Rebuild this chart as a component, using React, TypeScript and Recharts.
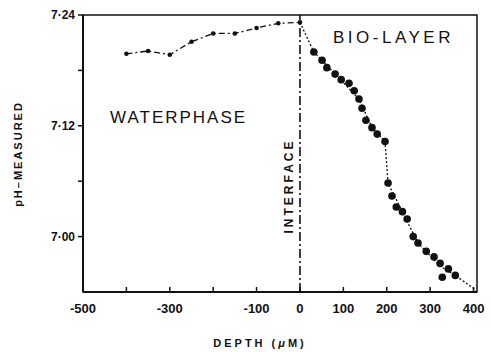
import {
  ComposedChart,
  Line,
  Scatter,
  XAxis,
  YAxis,
  ReferenceLine,
  ReferenceArea
} from 'recharts';

// depth in micrometres, pH
const waterDepth = [-400, -350, -300, -250, -200, -150, -100, -50, 0];
const waterPh = [7.198, 7.201, 7.197, 7.211, 7.22, 7.22, 7.226, 7.231, 7.232];

const bioDepth = [32, 51, 62, 81, 95, 113, 125, 136, 143, 152, 166, 178, 196, 203, 212, 222, 236, 247, 261, 272, 291, 309, 323, 328, 342, 358];
const bioPh = [7.2, 7.191, 7.183, 7.176, 7.17, 7.166, 7.158, 7.149, 7.139, 7.126, 7.118, 7.111, 7.103, 7.058, 7.044, 7.032, 7.027, 7.019, 7.0, 6.993, 6.984, 6.978, 6.971, 6.956, 6.965, 6.958];

const trendDepth = [0, 32, 81, 136, 166, 196, 203, 236, 272, 323, 358, 406];
const trendPh = [7.232, 7.2, 7.176, 7.149, 7.118, 7.103, 7.058, 7.027, 6.993, 6.968, 6.958, 6.942];

const xTicks = [-500, -400, -300, -200, -100, 0, 100, 200, 300, 400];
const xLabels = [-500, -300, -100, 0, 100, 200, 300, 400];
const yTicks = [7.0, 7.06, 7.12, 7.18, 7.24];
const yLabels = [7.0, 7.12, 7.24];

const toPoints = (xs: number[], ys: number[]) => xs.map((x, i) => ({ x, y: ys[i] }));

const waterData = toPoints(waterDepth, waterPh);
const bioData = toPoints(bioDepth, bioPh);
const trendData = toPoints(trendDepth, trendPh);

const font = '"Liberation Sans", Arial, sans-serif';
const ink = '#111';

const XTick = (props: any) => {
  const { x, y, payload } = props;
  if (!xLabels.includes(payload.value)) return <g />;
  return (
    <text x={x} y={y} dy={5} textAnchor="middle" fontFamily={font} fontWeight={700} fontSize={13} fill={ink}>
      {payload.value}
    </text>
  );
};

const yFormat = (v: number) => (yLabels.some((l) => Math.abs(l - v) < 1e-6) ? v.toFixed(2).replace('.', '·') : '');

export default function App() {
  return (
    <div style={{ position: 'absolute', left: 0, top: 0, width: 491, height: 352, background: '#fff' }}>
      <ComposedChart width={491} height={352} margin={{ top: 15, right: 14, left: 0, bottom: 0 }}>
        <XAxis
          type="number"
          dataKey="x"
          domain={[-500, 408]}
          ticks={xTicks}
          allowDataOverflow
          height={60}
          axisLine={{ stroke: ink, strokeWidth: 2 }}
          tickLine={{ stroke: ink, strokeWidth: 1.5 }}
          tickSize={-5}
          tickMargin={21}
          tick={<XTick />}
          label={{
            content: () => (
              <text x={260} y={347} textAnchor="middle" fontFamily={font} fontWeight={700} fontSize={11} letterSpacing={3} fill={ink}>
                DEPTH (<tspan fontStyle="italic">μ</tspan>M)
              </text>
            )
          }}
        />
        <YAxis
          type="number"
          dataKey="y"
          domain={[6.94, 7.24]}
          ticks={yTicks}
          allowDataOverflow
          width={83}
          axisLine={{ stroke: ink, strokeWidth: 2 }}
          tickLine={{ stroke: ink, strokeWidth: 1.5 }}
          tickSize={5}
          tickMargin={3}
          tickFormatter={yFormat}
          tick={{ fontFamily: font, fontWeight: 700, fontSize: 12, fill: ink }}
          label={{
            content: () => (
              <text
                x={0}
                y={0}
                transform="translate(22 154) rotate(-90)"
                textAnchor="middle"
                fontFamily={font}
                fontWeight={700}
                fontSize={11}
                letterSpacing={2}
                fill={ink}
              >
                pH–MEASURED
              </text>
            )
          }}
        />
        <ReferenceArea x1={-500} x2={408} y1={6.94} y2={7.24} fill="none" stroke={ink} strokeWidth={1.5} />
        <ReferenceLine x={0} stroke={ink} strokeWidth={1.6} strokeDasharray="9 3 2 3" />
        <Line
          data={waterData}
          dataKey="y"
          type="linear"
          stroke={ink}
          strokeWidth={1.3}
          strokeDasharray="6 3 2 3"
          dot={{ r: 2.3, fill: ink, stroke: ink, strokeWidth: 0 }}
          isAnimationActive={false}
        />
        <Line
          data={trendData}
          dataKey="y"
          type="linear"
          stroke={ink}
          strokeWidth={1.3}
          strokeDasharray="2 2"
          dot={false}
          isAnimationActive={false}
        />
        <Scatter data={bioData} dataKey="y" fill={ink} shape={(p: any) => <circle cx={p.cx} cy={p.cy} r={3.8} fill={ink} />} isAnimationActive={false} />
        <text x={110} y={123} fontFamily={font} fontSize={17} letterSpacing={2} fill={ink}>
          WATERPHASE
        </text>
        <text x={333} y={43} fontFamily={font} fontSize={17} letterSpacing={3.5} fill={ink}>
          BIO-LAYER
        </text>
        <text
          x={0}
          y={0}
          transform="translate(293 186) rotate(-90)"
          textAnchor="middle"
          fontFamily={font}
          fontWeight={700}
          fontSize={12}
          letterSpacing={3}
          fill={ink}
        >
          INTERFACE
        </text>
      </ComposedChart>
    </div>
  );
}
